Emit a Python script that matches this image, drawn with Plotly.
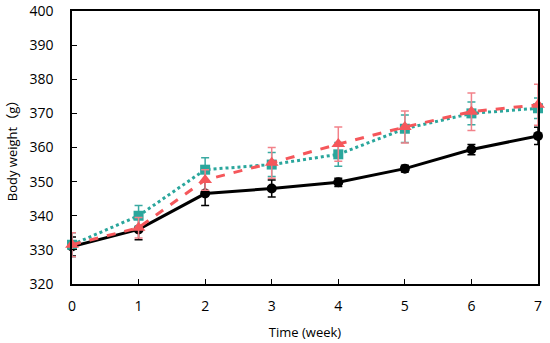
import plotly.graph_objects as go

weeks = [0, 1, 2, 3, 4, 5, 6, 7]
black_vals = [331.0, 336.0, 346.5, 348.0, 349.8, 353.8, 359.4, 363.4]
black_err = [2.8, 3.0, 3.5, 2.5, 1.2, 1.0, 1.5, 2.5]
teal_vals = [331.5, 340.0, 353.5, 355.0, 358.0, 365.5, 370.0, 371.5]
teal_err = [3.5, 3.0, 3.5, 3.5, 3.5, 4.0, 3.3, 3.0]
red_vals = [331.5, 336.5, 350.5, 355.5, 361.0, 366.0, 370.5, 372.5]
red_err = [3.5, 3.0, 3.0, 4.5, 5.0, 4.7, 5.5, 6.0]

fig = go.Figure()

fig.add_trace(go.Scatter(
    x=weeks, y=black_vals, mode="lines+markers",
    line=dict(color="black", width=3),
    marker=dict(symbol="circle", size=10, color="black"),
    error_y=dict(type="data", array=black_err, color="black", thickness=1.5, width=4),
))
fig.add_trace(go.Scatter(
    x=weeks, y=teal_vals, mode="lines+markers",
    line=dict(color="#2aa69c", width=3, dash="dot"),
    marker=dict(symbol="square", size=10, color="#2aa69c"),
    error_y=dict(type="data", array=teal_err, color="#3aaaa2", thickness=1.5, width=4),
))
fig.add_trace(go.Scatter(
    x=weeks, y=red_vals, mode="lines+markers",
    line=dict(color="#f5575b", width=3, dash="dash"),
    marker=dict(symbol="triangle-up", size=12, color="#f5575b"),
    error_y=dict(type="data", array=red_err, color="#f2828a", thickness=1.5, width=4),
))

fam = "Open Sans, Noto Sans, Noto Sans CJK SC, sans-serif"
tick_font = dict(family=fam, size=14, color="black")
fig.update_layout(
    width=550, height=343,
    margin=dict(l=72, r=12, t=11, b=59),
    paper_bgcolor="white", plot_bgcolor="white",
    showlegend=False,
    font=dict(family=fam, color="black"),
    xaxis=dict(
        range=[0, 7], dtick=1, tick0=0, automargin=False,
        showgrid=False, zeroline=False,
        showline=True, linecolor="black", linewidth=1.5, mirror=True,
        ticks="inside", ticklen=5, tickwidth=1, tickcolor="black",
        tickfont=tick_font, ticklabelstandoff=8,
        title=dict(text="Time (week)", font=dict(family=fam, size=13, color="black"), standoff=14),
    ),
    yaxis=dict(
        range=[320, 400], dtick=10, automargin=False,
        showgrid=False, zeroline=False,
        showline=True, linecolor="black", linewidth=1.5, mirror=True,
        ticks="inside", ticklen=5, tickwidth=1, tickcolor="black",
        tickfont=tick_font, ticklabelstandoff=14,
        title=dict(text="Body weight（g）", font=dict(family=fam, size=13, color="black"), standoff=9),
    ),
)
fig.update_traces(cliponaxis=False)

fig.write_html(
    "out.html",
    config={"displayModeBar": False},
    post_script="document.body.style.margin='0';document.body.style.overflow='hidden';",
)
